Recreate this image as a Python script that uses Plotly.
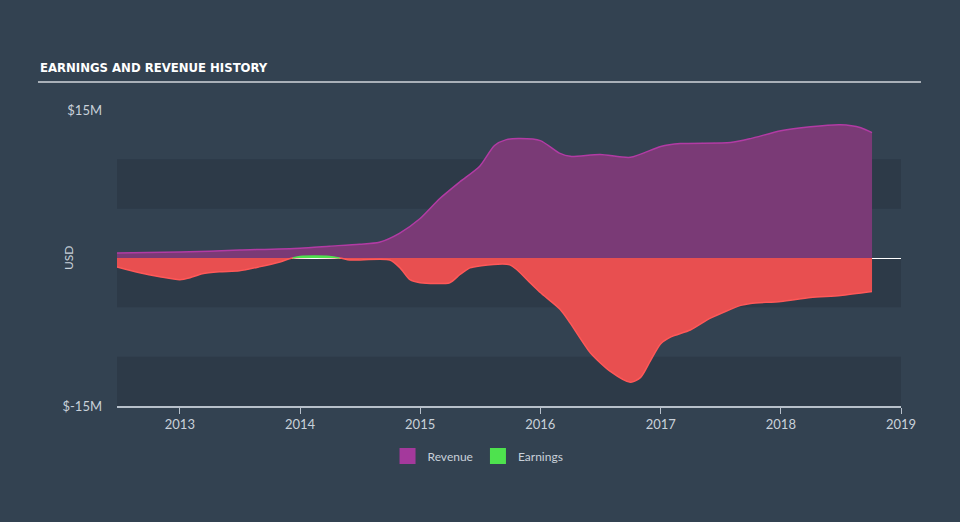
import plotly.graph_objects as go

# ---- data (USD millions) ----
rev_dates = ["2012-06-24", "2013-01-01", "2013-07-01", "2014-01-01", "2014-04-01",
             "2014-07-01", "2014-08-30", "2014-10-30", "2015-01-01", "2015-03-01",
             "2015-05-01", "2015-07-01", "2015-08-15", "2015-09-20",
             "2015-11-01", "2016-01-01", "2016-03-01", "2016-04-01", "2016-07-01",
             "2016-10-01", "2017-01-01", "2017-03-01", "2017-08-01", "2017-10-01",
             "2018-01-01", "2018-04-01", "2018-07-01", "2018-09-01", "2018-10-05"]
rev_vals = [0.5, 0.6, 0.8, 1.0, 1.2,
            1.4, 1.6, 2.5, 4.0, 6.0,
            7.7, 9.3, 11.4, 12.0,
            12.1, 11.9, 10.6, 10.3, 10.5,
            10.2, 11.3, 11.6, 11.7, 12.1,
            12.9, 13.3, 13.5, 13.2, 12.7]

earn_dates = ["2012-06-24", "2012-09-01", "2012-11-01", "2013-01-01", "2013-02-01",
              "2013-03-10", "2013-05-01", "2013-07-01", "2013-08-30", "2013-11-01",
              "2013-12-10", "2014-05-01", "2014-06-01", "2014-10-01", "2014-11-01",
              "2014-12-01", "2015-01-01", "2015-04-01", "2015-05-01", "2015-06-01",
              "2015-07-01", "2015-10-01", "2015-12-01", "2016-01-01", "2016-03-01",
              "2016-04-01", "2016-06-01", "2016-08-01", "2016-10-01", "2016-11-01",
              "2016-12-01", "2017-01-01", "2017-02-01", "2017-04-01", "2017-06-01",
              "2017-09-01", "2017-10-01", "2018-01-01", "2018-04-01", "2018-07-01",
              "2018-10-05"]
earn_vals = [-0.9, -1.5, -1.9, -2.2, -2.0,
             -1.6, -1.4, -1.3, -0.9, -0.4,
             0.0, 0.0, -0.2, -0.2, -1.0,
             -2.2, -2.5, -2.5, -1.7, -1.0,
             -0.8, -0.7, -2.5, -3.5, -5.2,
             -6.6, -9.6, -11.5, -12.6, -12.1,
             -10.4, -8.7, -8.0, -7.3, -6.1,
             -4.8, -4.6, -4.4, -4.0, -3.8,
             -3.4]

pos_dates = ["2013-12-10", "2014-01-01", "2014-02-15", "2014-04-01", "2014-05-01"]
pos_vals = [0.0, 0.15, 0.2, 0.15, 0.0]

band_ranges = [(5, 10), (-5, 0), (-15, -10)]
y_ticks = [-15, 15]
y_ticktext = ["$-15M", "$15M"]

BG = "#334251"
BAND = "#2d3a48"
TXT = "#c9d1da"

fig = go.Figure()

fig.add_trace(go.Scatter(
    x=rev_dates, y=rev_vals, mode="lines", fill="tozeroy",
    line=dict(color="#b23ba4", width=1.5, shape="spline", smoothing=0.7),
    fillcolor="#7a3a76", showlegend=False, hoverinfo="skip"))
fig.add_trace(go.Scatter(
    x=earn_dates, y=earn_vals, mode="lines", fill="tozeroy",
    line=dict(color="#ff5858", width=1.5, shape="spline", smoothing=0.7),
    fillcolor="#e84f50", showlegend=False, hoverinfo="skip"))
fig.add_trace(go.Scatter(
    x=pos_dates, y=pos_vals, mode="lines", fill="tozeroy",
    line=dict(color="#4ee24e", width=1.5, shape="spline", smoothing=0.7),
    fillcolor="#4ee24e", showlegend=False, hoverinfo="skip"))

# legend entries
fig.add_trace(go.Scatter(x=[None], y=[None], mode="markers", name="Revenue",
                         marker=dict(symbol="square", size=16, color="#a4399c")))
fig.add_trace(go.Scatter(x=[None], y=[None], mode="markers", name="Earnings",
                         marker=dict(symbol="square", size=16, color="#4ee24e")))

for lo, hi in band_ranges:
    fig.add_shape(type="rect", xref="paper", x0=0, x1=1, yref="y", y0=lo, y1=hi,
                  fillcolor=BAND, line=dict(width=0), layer="below")

# title underline
fig.add_shape(type="line", xref="paper", yref="paper", x0=-0.1008, x1=1.0255,
              y0=1.0946, y1=1.0946, line=dict(color="#a9b0b8", width=2))
fig.add_annotation(text="<b>EARNINGS AND REVENUE HISTORY</b>", xref="paper", yref="paper",
                   x=-0.1008, y=1.145, xanchor="left", yanchor="middle", showarrow=False,
                   font=dict(family="DejaVu Sans Condensed", size=13, color="#ffffff"))
fig.add_annotation(text="USD", xref="paper", yref="paper", x=-0.0625, y=0.5,
                   xanchor="center", yanchor="middle", textangle=-90, showarrow=False,
                   font=dict(family="Lato", size=12, color=TXT))

fig.update_layout(
    width=960, height=522,
    margin=dict(l=117, r=59, t=110, b=116),
    paper_bgcolor=BG, plot_bgcolor=BG,
    font=dict(family="Lato", color=TXT, size=12),
    legend=dict(orientation="h", xref="paper", yref="paper", x=0.4605, y=-0.169,
                xanchor="center", yanchor="middle", font=dict(size=12, color=TXT),
                bgcolor="rgba(0,0,0,0)", itemwidth=30),
    xaxis=dict(type="date", range=["2012-06-24", "2019-01-01"], showgrid=False,
               zeroline=False, showline=True, linecolor="#b7c0ca", linewidth=1.5,
               ticks="outside", ticklen=6, tickcolor="#b7c0ca",
               tick0="2013-01-01", dtick="M12", tickformat="%Y",
               tickfont=dict(size=13, color=TXT)),
    yaxis=dict(range=[-15, 15], tickvals=y_ticks, ticktext=y_ticktext, showgrid=False,
               zeroline=True, zerolinecolor="#ffffff", zerolinewidth=1,
               ticks="", ticklabelstandoff=14, tickfont=dict(size=13, color=TXT)),
)

fig.write_html("out.html", config={"displayModeBar": False},
               post_script="document.body.style.margin='0';document.body.style.padding='0';")
